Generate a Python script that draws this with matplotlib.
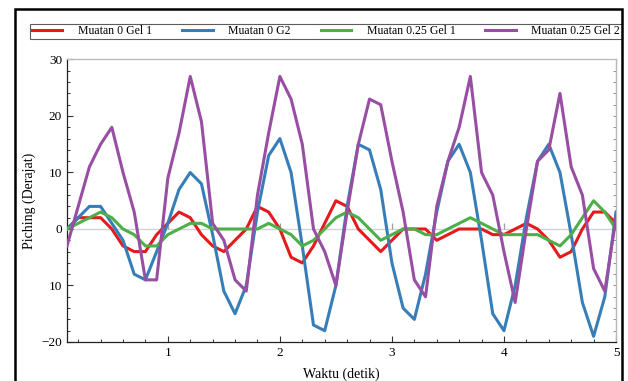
import numpy as np
import matplotlib
matplotlib.use("Agg")
import matplotlib.pyplot as plt
from matplotlib.ticker import MultipleLocator, FixedLocator
from matplotlib.patches import Rectangle

plt.rcParams['font.family'] = ['Liberation Serif', 'DejaVu Serif']
plt.rcParams['axes.unicode_minus'] = True

# ---- data ----
waktu = [0.1, 0.2, 0.3, 0.4, 0.5, 0.6, 0.7, 0.8, 0.9, 1.0,
         1.1, 1.2, 1.3, 1.4, 1.5, 1.6, 1.7, 1.8, 1.9, 2.0,
         2.1, 2.2, 2.3, 2.4, 2.5, 2.6, 2.7, 2.8, 2.9, 3.0,
         3.1, 3.2, 3.3, 3.4, 3.5, 3.6, 3.7, 3.8, 3.9, 4.0,
         4.1, 4.2, 4.3, 4.4, 4.5, 4.6, 4.7, 4.8, 4.9, 5.0]

muatan0_gel1 = [0, 2, 2, 2, 0, -3, -4, -4, -1, 1,
                3, 2, -1, -3, -4, -2, 0, 4, 3, 0,
                -5, -6, -3, 1, 5, 4, 0, -2, -4, -2,
                0, 0, 0, -2, -1, 0, 0, 0, -1, -1,
                0, 1, 0, -2, -5, -4, 0, 3, 3, 1]

muatan0_g2 = [0, 2, 4, 4, 1, -2, -8, -9, -4, 1,
              7, 10, 8, -1, -11, -15, -10, 3, 13, 16,
              10, -3, -17, -18, -10, 4, 15, 14, 7, -6,
              -14, -16, -8, 3, 12, 15, 10, -2, -15, -18,
              -10, 2, 12, 15, 10, -1, -13, -19, -12, 3]

muatan025_gel1 = [0, 1, 2, 3, 2, 0, -1, -3, -3, -1,
                  0, 1, 1, 0, 0, 0, 0, 0, 1, 0,
                  -1, -3, -2, 0, 2, 3, 2, 0, -2, -1,
                  0, 0, -1, -1, 0, 1, 2, 1, 0, -1,
                  -1, -1, -1, -2, -3, -1, 2, 5, 3, 0]

muatan025_gel2 = [-3, 4, 11, 15, 18, 10, 3, -9, -9, 9,
                  17, 27, 19, 1, -2, -9, -11, 6, 17, 27,
                  23, 15, 0, -4, -10, 3, 15, 23, 22, 12,
                  3, -9, -12, 4, 12, 18, 27, 10, 6, -4,
                  -13, 0, 12, 14, 24, 11, 6, -7, -11, 2]

series_labels = ["Muatan 0 Gel 1", "Muatan 0 G2", "Muatan 0.25 Gel 1", "Muatan 0.25 Gel 2"]
series_colors = ["#e41a1c", "#377eb8", "#4daf4a", "#984ea3"]

xticks = [1, 2, 3, 4, 5]
xticklabels = ["1", "2", "3", "4", "5"]
yticks = [-20, -10, 0, 10, 20, 30]
yticklabels = ["\u221220", "10", "0", "10", "20", "30"]

xlabel = "Waktu (detik)"
ylabel = "Piching (Derajat)"

# ---- figure ----
W, H = 628, 381
fig = plt.figure(figsize=(W / 100, H / 100), dpi=100)
ax = fig.add_axes([67 / W, 1 - 342 / H, (616 - 67) / W, (342 - 59.5) / H])

all_series = [muatan0_gel1, muatan0_g2, muatan025_gel1, muatan025_gel2]
lines = []
for vals, lab, col in zip(all_series, series_labels, series_colors):
    ln, = ax.plot(waktu, vals, color=col, lw=2.2, label=lab, solid_joinstyle='round', zorder=3)
    lines.append(ln)

ax.set_xlim(0.1, 5.0)
ax.set_ylim(-20, 30)

# zero line with small tick marks at integer seconds
ax.axhline(0, color="#d0d4d8", lw=1.0, zorder=1)
ax.plot(xticks[:-1], [0] * (len(xticks) - 1), ls='none', marker=2, ms=4,
        mew=0.9, color="#a0a0a0", zorder=1)

ax.xaxis.set_major_locator(FixedLocator(xticks))
ax.set_xticklabels(xticklabels)
ax.xaxis.set_minor_locator(MultipleLocator(0.2))
ax.yaxis.set_major_locator(FixedLocator(yticks))
ax.set_yticklabels(yticklabels)
ax.yaxis.set_minor_locator(MultipleLocator(2))

ax.tick_params(axis='both', which='major', direction='in', length=4.5, width=0.8,
               color='#333333', labelsize=9.5, pad=3.5)
ax.tick_params(axis='both', which='minor', direction='in', length=2.5, width=0.7,
               color='#333333')
ax.tick_params(top=False, right=False, which='both')

for side in ['left', 'bottom']:
    ax.spines[side].set_color('#222222')
    ax.spines[side].set_linewidth(0.9)
for side in ['top', 'right']:
    ax.spines[side].set_color('#b8b8b8')
    ax.spines[side].set_linewidth(0.9)

# right side ticks (every 2 units, short, grey)
sec = ax.secondary_yaxis('right')
sec.yaxis.set_major_locator(MultipleLocator(2))
sec.tick_params(direction='in', length=2.5, width=0.7, color='#909090', labelright=False)
sec.spines['right'].set_color('#b8b8b8')
sec.spines['right'].set_linewidth(0.9)

ax.set_xlabel(xlabel, fontsize=10, labelpad=6)
ax.set_ylabel(ylabel, fontsize=10, labelpad=4)

# legend across the top
leg = fig.legend(handles=lines, labels=series_labels, ncol=4, mode='expand',
                 loc='center left',
                 bbox_to_anchor=(30 / W, 1 - 38 / H, (622 - 30) / W, 13 / H),
                 fontsize=8.5, frameon=True, fancybox=False, borderpad=0.15,
                 handlelength=2.6, handletextpad=1.3, columnspacing=1.0,
                 borderaxespad=0.0)
leg.get_frame().set_edgecolor('#333333')
leg.get_frame().set_linewidth(0.8)
for lh in leg.get_lines():
    lh.set_linewidth(2.2)

# outer black frame
fig.patches.append(Rectangle((15 / W, -0.05), (622 - 15) / W, 1.05 - 8.5 / H,
                             transform=fig.transFigure, fill=False,
                             edgecolor='black', lw=1.8, zorder=10))

fig.savefig("out.png", dpi=100)
